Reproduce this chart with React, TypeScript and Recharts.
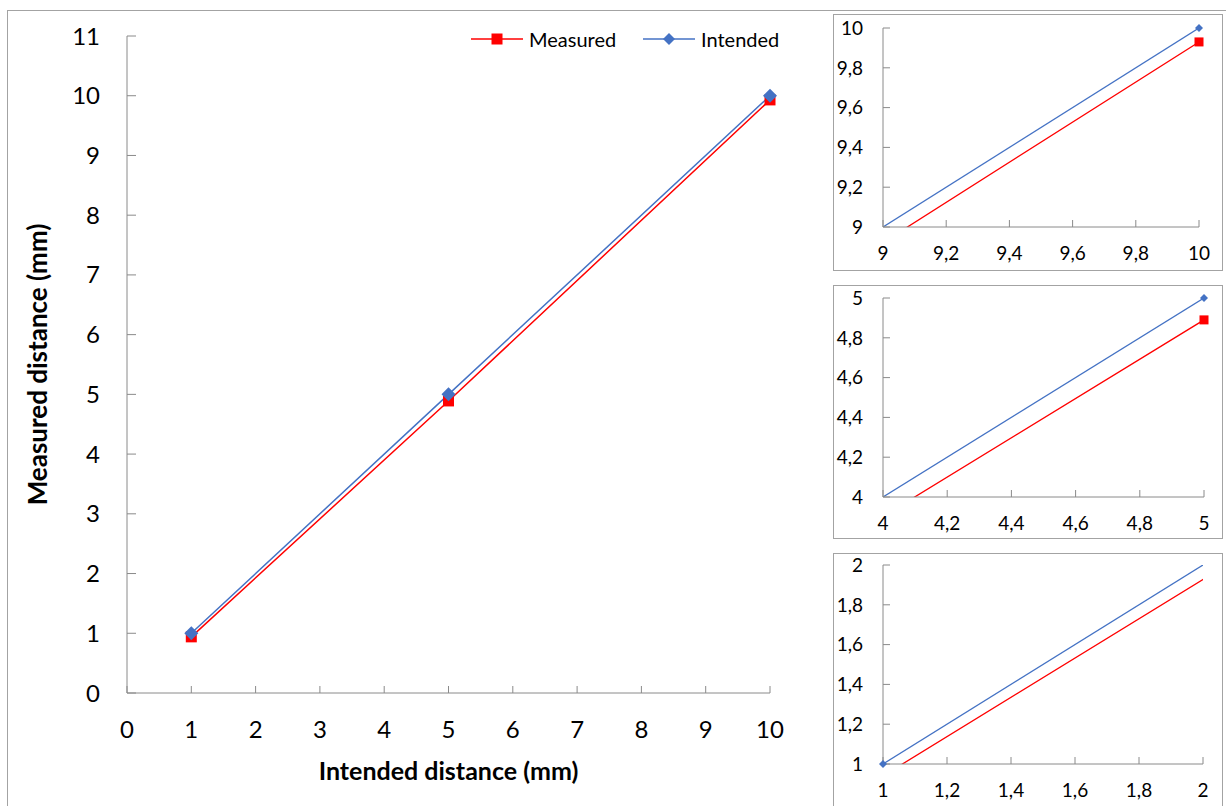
import React from 'react';
import { LineChart, ComposedChart, Line, Scatter, XAxis, YAxis, Legend, Label } from 'recharts';

// intended vs measured distances (mm)
const intendedX = [1, 5, 10];
const intendedY = [1, 5, 10];
const measuredY = [0.94, 4.89, 9.93];

const seriesNames = ['Measured', 'Intended'];

const mainXTicks = [0, 1, 2, 3, 4, 5, 6, 7, 8, 9, 10];
const mainYTicks = [0, 1, 2, 3, 4, 5, 6, 7, 8, 9, 10, 11];

const zoomHighTicks = [9, 9.2, 9.4, 9.6, 9.8, 10];
const zoomMidTicks = [4, 4.2, 4.4, 4.6, 4.8, 5];
const zoomLowTicks = [1, 1.2, 1.4, 1.6, 1.8, 2];

const RED = '#ff0000';
const BLUE = '#4472c4';
const AXIS = '#8a8a8a';
const FRAME = '#a3a3a3';
const FONT = 'Lato, "Open Sans", sans-serif';

const measured = intendedX.map((x, i) => ({ x, y: measuredY[i] }));
const intended = intendedX.map((x, i) => ({ x, y: intendedY[i] }));

const comma = (v: number) => String(v).replace('.', ',');

const squareDot = (size: number, color: string) => (p: any) => {
  const { cx, cy, index } = p;
  if (cx == null || cy == null) return <g key={`sq-${index}`} />;
  return <rect key={`sq-${index}`} x={cx - size / 2} y={cy - size / 2} width={size} height={size} fill={color} />;
};

const diamondDot = (r: number, color: string) => (p: any) => {
  const { cx, cy, index } = p;
  if (cx == null || cy == null) return <g key={`dm-${index}`} />;
  return (
    <polygon
      key={`dm-${index}`}
      points={`${cx},${cy - r} ${cx + r},${cy} ${cx},${cy + r} ${cx - r},${cy}`}
      fill={color}
    />
  );
};

const renderLegend = () => (
  <div style={{ display: 'flex', alignItems: 'center', fontSize: 20, color: '#000', lineHeight: '22px' }}>
    {seriesNames.map((name, i) => {
      const color = i === 0 ? RED : BLUE;
      return (
        <div key={name} style={{ display: 'flex', alignItems: 'center', width: i === 0 ? 172 : 'auto' }}>
          <svg width={52} height={16} style={{ display: 'block' }}>
            <line x1={0} x2={52} y1={8} y2={8} stroke={color} strokeWidth={1.5} />
            {i === 0 ? (
              <rect x={26 - 5.5} y={8 - 5.5} width={11} height={11} fill={color} />
            ) : (
              <polygon points="26,2 32,8 26,14 20,8" fill={color} />
            )}
          </svg>
          <span style={{ marginLeft: 6 }}>{name}</span>
        </div>
      );
    })}
  </div>
);

type InsetProps = { top: number; height: number; plotTop: number; right: number; ticks: number[] };

const Inset = ({ top, height, plotTop, right, ticks }: InsetProps) => {
  const lo = ticks[0];
  const hi = ticks[ticks.length - 1];
  const inRange = (pts: { x: number; y: number }[]) =>
    pts.filter((p) => p.x >= lo && p.x <= hi && p.y >= lo && p.y <= hi);
  const tickStyle = { fill: '#000', fontSize: 19 };
  return (
    <>
      <div
        style={{
          position: 'absolute',
          left: 833,
          top,
          width: 390,
          height,
          border: `1px solid ${FRAME}`,
          boxSizing: 'border-box',
          background: '#fff',
        }}
      />
      <div style={{ position: 'absolute', left: 833, top }}>
        <ComposedChart
          width={390}
          height={height}
          margin={{ top: plotTop, right, bottom: height - plotTop - 199 - 30, left: 0 }}
        >
          <XAxis
            xAxisId="a"
            type="number"
            dataKey="x"
            domain={[lo, hi]}
            allowDataOverflow
            ticks={ticks}
            interval={0}
            tickSize={-7}
            tickMargin={27}
            height={30}
            stroke={AXIS}
            tick={tickStyle}
            tickFormatter={comma}
          />
          <YAxis
            yAxisId="a"
            type="number"
            dataKey="y"
            domain={[lo, hi]}
            allowDataOverflow
            ticks={ticks}
            interval={0}
            tickSize={-7}
            tickMargin={27}
            width={50}
            stroke={AXIS}
            tick={tickStyle}
            tickFormatter={comma}
          />
          <XAxis xAxisId="m" hide type="number" dataKey="x" domain={[lo, hi]} />
          <YAxis yAxisId="m" hide type="number" dataKey="y" domain={[lo, hi]} />
          <Line xAxisId="a" yAxisId="a" data={measured} dataKey="y" stroke={RED} strokeWidth={1.3} dot={false} isAnimationActive={false} />
          <Line xAxisId="a" yAxisId="a" data={intended} dataKey="y" stroke={BLUE} strokeWidth={1.3} dot={false} isAnimationActive={false} />
          <Scatter xAxisId="m" yAxisId="m" data={inRange(measured)} dataKey="y" shape={squareDot(9, RED)} isAnimationActive={false} />
          <Scatter xAxisId="m" yAxisId="m" data={inRange(intended)} dataKey="y" shape={diamondDot(4, BLUE)} isAnimationActive={false} />
        </ComposedChart>
      </div>
    </>
  );
};

export default function App() {
  return (
    <div
      style={{
        position: 'absolute',
        left: 0,
        top: 0,
        width: 1226,
        height: 806,
        overflow: 'hidden',
        background: '#fff',
        fontFamily: FONT,
      }}
    >
      <div style={{ position: 'absolute', left: 7, top: 10, width: 1300, height: 900, border: `1px solid ${FRAME}` }} />
      <div style={{ position: 'absolute', left: 0, top: 0 }}>
        <LineChart width={830} height={806} margin={{ top: 36, right: 60, bottom: 63, left: 67 }}>
          <XAxis
            type="number"
            dataKey="x"
            domain={[0, 10]}
            ticks={mainXTicks}
            interval={0}
            tickSize={-7}
            tickMargin={35}
            height={50}
            stroke={AXIS}
            tick={{ fill: '#000', fontSize: 24 }}
          >
            <Label value="Intended distance (mm)" position="bottom" offset={19} fontSize={25} fontWeight={700} fill="#000" />
          </XAxis>
          <YAxis
            type="number"
            dataKey="y"
            domain={[0, 11]}
            ticks={mainYTicks}
            interval={0}
            tickSize={-9}
            tickMargin={36}
            width={60}
            stroke={AXIS}
            tick={{ fill: '#000', fontSize: 24 }}
          >
            <Label value="Measured distance (mm)" position="center" angle={-90} dx={-59} fontSize={26} fontWeight={700} fill="#000" />
          </YAxis>
          <Legend
            layout="horizontal"
            verticalAlign="middle"
            align="center"
            wrapperStyle={{ top: 28, left: 471, width: 340 }}
            content={renderLegend}
          />
          <Line data={measured} dataKey="y" name="Measured" stroke={RED} strokeWidth={1.5} dot={squareDot(11, RED)} isAnimationActive={false} />
          <Line data={intended} dataKey="y" name="Intended" stroke={BLUE} strokeWidth={1.5} dot={diamondDot(7, BLUE)} isAnimationActive={false} />
        </LineChart>
      </div>
      <Inset top={14} height={257} plotTop={14} right={24} ticks={zoomHighTicks} />
      <Inset top={285} height={254} plotTop={13} right={19} ticks={zoomMidTicks} />
      <Inset top={553} height={256} plotTop={12} right={20} ticks={zoomLowTicks} />
    </div>
  );
}
